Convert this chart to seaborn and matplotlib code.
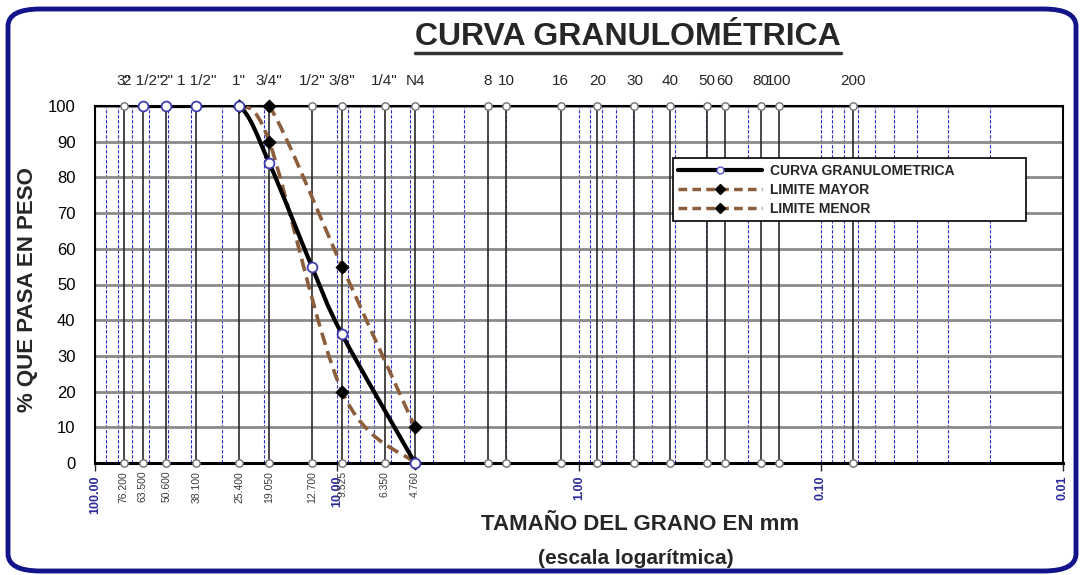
import numpy as np
import matplotlib
matplotlib.use("Agg")
import matplotlib.pyplot as plt
import matplotlib.ticker as mtick
import matplotlib.transforms as mtrans
from matplotlib.path import Path
from matplotlib.patches import PathPatch, FancyBboxPatch
from matplotlib.lines import Line2D
import seaborn as sns

# sieves (top labels) and their openings in mm
sieve_names = ['3"', '2 1/2"', '2"', '1 1/2"', '1"', '3/4"', '1/2"', '3/8"', '1/4"', 'N4',
               '8', '10', '16', '20', '30', '40', '50', '60', '80', '100', '200']
sieve_mm = [76.2, 63.5, 50.8, 38.1, 25.4, 19.05, 12.7, 9.525, 6.35, 4.76,
            2.38, 2.0, 1.19, 0.84, 0.59, 0.42, 0.297, 0.25, 0.177, 0.149, 0.074]
bottom_labels = ['76.200', '63.500', '50.600', '38.100', '25.400',
                 '19.050', '12.700', '9.525', '6.350', '4.760']

# grading curve and limits (% passing)
curve_mm = [63.5, 50.8, 38.1, 25.4, 19.05, 12.7, 9.525, 4.76]
curve_pass = [100, 100, 100, 100, 84, 55, 36, 0]
upper_mm = [25.4, 19.05, 9.525, 4.76]
upper_pass = [100, 100, 55, 10]
lower_mm = [25.4, 19.05, 9.525, 4.76]
lower_pass = [100, 90, 20, 0]

decade_ticks = [100, 10, 1, 0.1, 0.01]
y_ticks = list(range(0, 101, 10))

BROWN = '#8c5e3c'
BLUE = '#2b2bc8'


def smooth_path(xs, ys):
    # excel-like smoothed line: bezier segments in (log x, y) space
    pts = np.column_stack([np.log10(xs), np.asarray(ys, float)])
    n = len(pts)
    verts = [pts[0]]
    codes = [Path.MOVETO]
    for i in range(n - 1):
        p0 = pts[i - 1] if i > 0 else pts[i]
        p3 = pts[i + 2] if i + 2 < n else pts[i + 1]
        c1 = pts[i] + (pts[i + 1] - p0) / 6
        c2 = pts[i + 1] - (p3 - pts[i]) / 6
        verts += [c1, c2, pts[i + 1]]
        codes += [Path.CURVE4] * 3
    verts = np.array(verts)
    verts[:, 0] = 10 ** verts[:, 0]
    return Path(verts, codes)


sns.set_style("white")
plt.rcParams['font.family'] = ['Liberation Sans', 'DejaVu Sans']

fig = plt.figure(figsize=(10.84, 5.75), dpi=100)
ax = fig.add_axes([95 / 1084, 1 - 463 / 575, 968 / 1084, 357 / 575])
ax.set_xscale('log')
ax.set_xlim(100, 0.01)
ax.set_ylim(0, 100)

# grids
ax.xaxis.set_major_locator(mtick.FixedLocator(decade_ticks))
ax.xaxis.set_minor_locator(mtick.LogLocator(base=10, subs=np.arange(2, 10)))
ax.xaxis.set_minor_formatter(mtick.NullFormatter())
ax.set_xticklabels([f"{v:.2f}" for v in decade_ticks])
ax.set_yticks(y_ticks)
ax.grid(axis='x', which='both', color=BLUE, lw=0.8, ls=(0, (3, 1.5)), zorder=0)
ax.grid(axis='y', which='major', color='#8a8a8a', lw=2, zorder=0)

# sieve vertical lines + markers
ax.vlines(sieve_mm, 0, 100, colors='#2a2a2a', lw=1.2, zorder=1)
for yv in (0, 100):
    sns.scatterplot(x=sieve_mm, y=[yv] * len(sieve_mm), ax=ax, marker='o', s=28,
                    color='white', edgecolor='#707070', linewidth=1, zorder=3, clip_on=False)

# curves
ax.add_patch(PathPatch(smooth_path(upper_mm, upper_pass), fill=False, ec=BROWN, lw=2.6,
                       ls=(0, (3.5, 1.8)), zorder=4))
ax.add_patch(PathPatch(smooth_path(lower_mm, lower_pass), fill=False, ec=BROWN, lw=2.6,
                       ls=(0, (3.5, 1.8)), zorder=4))
ax.add_patch(PathPatch(smooth_path(curve_mm, curve_pass), fill=False, ec='black', lw=3,
                       zorder=5))

sns.scatterplot(x=upper_mm, y=upper_pass, ax=ax, marker='D', s=45, color='black',
                edgecolor='black', zorder=6, clip_on=False)
sns.scatterplot(x=lower_mm, y=lower_pass, ax=ax, marker='D', s=45, color='black',
                edgecolor='black', zorder=6, clip_on=False)
sns.scatterplot(x=curve_mm, y=curve_pass, ax=ax, marker='o', s=50, color='white',
                edgecolor='#4040b0', linewidth=1.3, zorder=7, clip_on=False)

# axis styling
for side in ['left', 'top', 'right']:
    ax.spines[side].set_color('black')
    ax.spines[side].set_linewidth(1.5)
ax.spines['bottom'].set_color('black')
ax.spines['bottom'].set_linewidth(2.2)
ax.tick_params(axis='y', length=0, pad=14, labelsize=12, colors='black')
ax.tick_params(axis='x', which='major', direction='out', length=6, width=1, pad=3,
               labelsize=9, labelcolor='#2b2b9a', labelrotation=90)
ax.tick_params(axis='x', which='minor', length=0)
for lbl in ax.get_xticklabels():
    lbl.set_fontweight('bold')

# sieve openings under the axis
trans = mtrans.blended_transform_factory(ax.transData, ax.transAxes)
for x, lbl in zip(sieve_mm, bottom_labels):
    ax.text(x, -0.022, lbl, transform=trans, rotation=90, ha='center', va='top',
            fontsize=7.5, color='#3a3a3a')

# sieve names on top
ax2 = ax.twiny()
ax2.set_xscale('log')
ax2.set_xlim(ax.get_xlim())
ax2.xaxis.set_major_locator(mtick.FixedLocator(sieve_mm))
ax2.xaxis.set_minor_locator(mtick.NullLocator())
ax2.set_xticklabels(sieve_names)
ax2.tick_params(axis='x', length=0, pad=13, labelsize=11)
ax2.grid(False)
for s in ax2.spines.values():
    s.set_visible(False)

# legend
handles = [
    Line2D([0], [0], color='black', lw=3, marker='o', ms=5, mfc='white', mec='#5555cc'),
    Line2D([0], [0], color=BROWN, lw=2.5, ls=(0, (2.5, 1.5)), marker='D', ms=5,
           mfc='black', mec='black'),
    Line2D([0], [0], color=BROWN, lw=2.5, ls=(0, (2.5, 1.5)), marker='D', ms=5,
           mfc='black', mec='black'),
]
leg = ax.legend(handles, ['CURVA GRANULOMETRICA', 'LIMITE MAYOR', 'LIMITE MENOR'],
                loc='upper left', bbox_to_anchor=(0.597, 0.673, 0.365, 0.18), mode='expand',
                frameon=True, fancybox=False, edgecolor='black', framealpha=1,
                handlelength=6, prop={'size': 10, 'weight': 'bold'}, borderpad=0.4,
                labelspacing=0.35, handletextpad=0.6, borderaxespad=0)
leg.get_frame().set_linewidth(1.2)
leg.set_zorder(10)

# labels
ax.set_ylabel('% QUE PASA EN PESO', fontsize=16, fontweight='bold')
ax.yaxis.set_label_coords(-0.059, 0.485)
fig.text(640 / 1084, 1 - 524 / 575, 'TAMAÑO DEL GRANO EN mm', ha='center', va='center',
         fontsize=16, fontweight='bold')
fig.text(636 / 1084, 1 - 558 / 575, '(escala logarítmica)', ha='center', va='center',
         fontsize=15, fontweight='bold')

title = fig.text(628 / 1084, 1 - 37 / 575, 'CURVA GRANULOMÉTRICA', ha='center',
                 va='center', fontsize=23, fontweight='bold')
fig.canvas.draw()
bb = title.get_window_extent().transformed(fig.transFigure.inverted())
fig.add_artist(Line2D([bb.x0, bb.x1], [bb.y0 - 0.002, bb.y0 - 0.002],
                      transform=fig.transFigure, color='#333333', lw=2.5))

# rounded outer frame
frame = FancyBboxPatch((8 / 1084, 4 / 575), 1068 / 1084, 562 / 575,
                       boxstyle='round,pad=0,rounding_size=0.03',
                       transform=fig.transFigure, fill=False, ec='#14148a', lw=3.5)
fig.add_artist(frame)

fig.savefig('out.png', dpi=100)
